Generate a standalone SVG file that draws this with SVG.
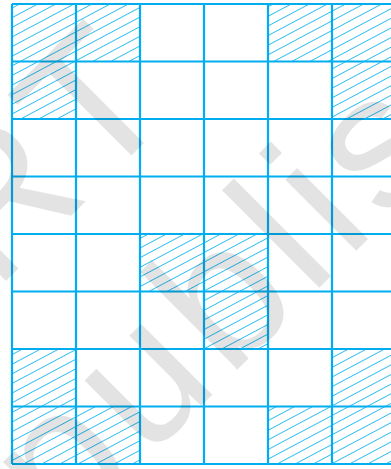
<svg xmlns="http://www.w3.org/2000/svg" width="391" height="469" viewBox="0 0 391 469">
  <defs>
    <pattern id="hatch" patternUnits="userSpaceOnUse" width="10" height="8.5" patternTransform="rotate(-28)">
      <line x1="-1" y1="4.25" x2="11" y2="4.25" stroke="#00AEEF" stroke-width="0.8"/>
    </pattern>
  </defs>
  <style>
    .h { fill: url(#hatch); stroke: none; }
    .g { stroke: #00AEEF; stroke-width: 2.2; fill: none; }
    .wm { font-family: "Liberation Sans", Arial, sans-serif; font-size: 190px; letter-spacing: 10px; fill: #000; fill-opacity: 0.11; }
  </style>
  <rect width="391" height="469" fill="#fff"/>
  <g id="hatched-cells">
    <rect class="h" x="12" y="4" width="64" height="57.5"/>
    <rect class="h" x="76" y="4" width="64" height="57.5"/>
    <rect class="h" x="268" y="4" width="64" height="57.5"/>
    <rect class="h" x="332" y="4" width="64" height="57.5"/>
    <rect class="h" x="12" y="61.5" width="64" height="57.5"/>
    <rect class="h" x="332" y="61.5" width="64" height="57.5"/>
    <rect class="h" x="140" y="234" width="64" height="57.5"/>
    <rect class="h" x="204" y="234" width="64" height="57.5"/>
    <rect class="h" x="204" y="291.5" width="64" height="57.5"/>
    <rect class="h" x="12" y="349" width="64" height="57.5"/>
    <rect class="h" x="332" y="349" width="64" height="57.5"/>
    <rect class="h" x="12" y="406.5" width="64" height="57.5"/>
    <rect class="h" x="76" y="406.5" width="64" height="57.5"/>
    <rect class="h" x="268" y="406.5" width="64" height="57.5"/>
    <rect class="h" x="332" y="406.5" width="64" height="57.5"/>
  </g>
  <g id="grid" class="g">
    <path d="M12 4V464M76 4V464M140 4V464M204 4V464M268 4V464M332 4V464"/>
    <path d="M12 4H391M12 61.5H391M12 119H391M12 176.5H391M12 234H391M12 291.5H391M12 349H391M12 406.5H391M12 464H391"/>
  </g>
  <g id="watermark">
    <text class="wm" x="65" y="542" transform="rotate(-45 65 542)">publis</text>
    <text class="wm" x="-5" y="292" transform="rotate(-45 -5 292)">RT</text>
  </g>
</svg>
